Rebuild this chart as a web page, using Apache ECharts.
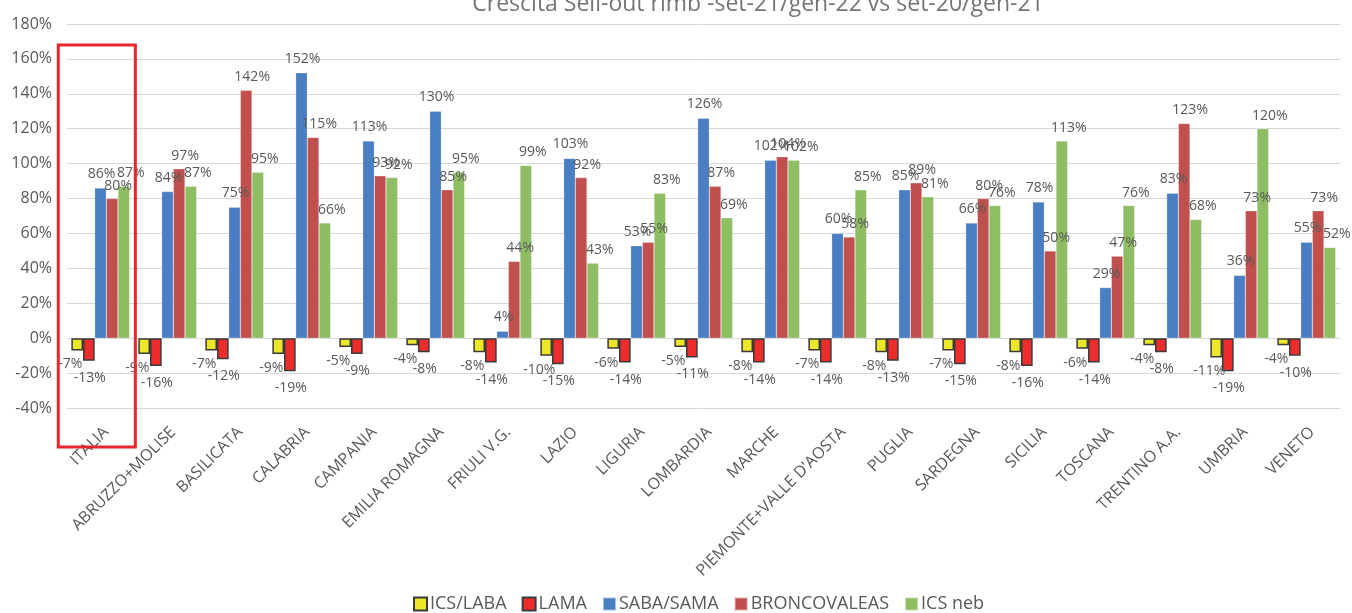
<!DOCTYPE html>
<html>
<head>
<meta charset="utf-8">
<title>Crescita Sell-out rimb</title>
<script src="https://cdn.jsdelivr.net/npm/echarts@6/dist/echarts.min.js"></script>
<style>
  html, body { margin: 0; padding: 0; background: #ffffff; }
  #chart { width: 1352px; height: 613px; }
</style>
</head>
<body>
<div id="chart"></div>
<script>
// Regions (ITALIA first, as the national total)
const categories = [
  'ITALIA', 'ABRUZZO+MOLISE', 'BASILICATA', 'CALABRIA', 'CAMPANIA',
  'EMILIA ROMAGNA', 'FRIULI V.G.', 'LAZIO', 'LIGURIA', 'LOMBARDIA',
  'MARCHE', "PIEMONTE+VALLE D'AOSTA", 'PUGLIA', 'SARDEGNA', 'SICILIA',
  'TOSCANA', 'TRENTINO A.A.', 'UMBRIA', 'VENETO'
];

// Sell-out growth (%) per therapeutic class
const icsLaba    = [-7, -9, -7, -9, -5, -4, -8, -10, -6, -5, -8, -7, -8, -7, -8, -6, -4, -11, -4];
const lama       = [-13, -16, -12, -19, -9, -8, -14, -15, -14, -11, -14, -14, -13, -15, -16, -14, -8, -19, -10];
const sabaSama   = [86, 84, 75, 152, 113, 130, 4, 103, 53, 126, 102, 60, 85, 66, 78, 29, 83, 36, 55];
const broncovaleas = [80, 97, 142, 115, 93, 85, 44, 92, 55, 87, 104, 58, 89, 80, 50, 47, 123, 73, 73];
const icsNeb     = [87, 87, 95, 66, 92, 95, 99, 43, 83, 69, 102, 85, 81, 76, 113, 76, 68, 120, 52];

const seriesNames = ['ICS/LABA', 'LAMA', 'SABA/SAMA', 'BRONCOVALEAS', 'ICS neb'];
const yTicks = { min: -40, max: 180, step: 20 };
const highlightCategory = 'ITALIA';

const FONT = '"Open Sans", Lato, sans-serif';
const TEXT = '#595959';

function barSeries(name, data, color, opts) {
  return {
    name: name,
    type: 'bar',
    data: data,
    barGap: '0%',
    barCategoryGap: '13%',
    itemStyle: Object.assign({ color: color }, opts.itemStyle || {}),
    label: {
      show: true,
      position: opts.position,
      distance: opts.distance,
      offset: opts.offset,
      formatter: '{c}%',
      color: TEXT,
      fontFamily: FONT,
      fontSize: 14
    },
    emphasis: { disabled: true }
  };
}

const chart = echarts.init(document.getElementById('chart'), null, { renderer: 'canvas' });

const option = {
  animation: false,
  backgroundColor: '#ffffff',
  textStyle: { fontFamily: FONT },
  title: {
    text: 'Crescita Sell-out rimb -set-21/gen-22 vs set-20/gen-21',
    left: 753,
    top: -12,
    textAlign: 'center',
    textStyle: { color: '#757575', fontFamily: FONT, fontSize: 23, fontWeight: 'normal' }
  },
  legend: {
    bottom: -5,
    left: 408,
    itemWidth: 13,
    itemHeight: 13,
    itemGap: 15,
    icon: 'rect',
    textStyle: { color: TEXT, fontFamily: FONT, fontSize: 18, padding: [0, 0, 0, -2] },
    data: seriesNames
  },
  grid: { left: 67, right: 12, top: 24, bottom: 205, containLabel: false },
  xAxis: {
    type: 'category',
    data: categories,
    axisLine: { show: false },
    axisTick: { show: false },
    axisLabel: {
      rotate: 45,
      interval: 0,
      margin: 16,
      verticalAlign: 'top',
      color: TEXT,
      fontFamily: FONT,
      fontSize: 16
    }
  },
  yAxis: {
    type: 'value',
    min: yTicks.min,
    max: yTicks.max,
    interval: yTicks.step,
    axisLine: { show: false },
    axisTick: { show: false },
    splitLine: { lineStyle: { color: '#D9D9D9', width: 1 } },
    axisLabel: {
      formatter: '{value}%',
      margin: 15,
      color: TEXT,
      fontFamily: FONT,
      fontSize: 16
    }
  },
  series: [
    barSeries(seriesNames[0], icsLaba, '#EDE72A', {
      position: 'bottom', distance: 7, offset: [-7, 0],
      itemStyle: { borderColor: '#3b3b3b', borderWidth: 1.5 }
    }),
    barSeries(seriesNames[1], lama, '#EE2C2C', {
      position: 'bottom', distance: 10, offset: [1, 0],
      itemStyle: { borderColor: '#3b3b3b', borderWidth: 1.5 }
    }),
    barSeries(seriesNames[2], sabaSama, '#4A7EC2', {
      position: 'top', distance: 7, offset: [1, 0],
      itemStyle: { borderColor: 'rgba(255,255,255,0.5)', borderWidth: 0.5 }
    }),
    barSeries(seriesNames[3], broncovaleas, '#C0504D', {
      position: 'top', distance: 6, offset: [6, 0],
      itemStyle: { borderColor: 'rgba(255,255,255,0.5)', borderWidth: 0.5 }
    }),
    barSeries(seriesNames[4], icsNeb, '#8FBD63', {
      position: 'top', distance: 6, offset: [7, 0],
      itemStyle: { borderColor: 'rgba(255,255,255,0.5)', borderWidth: 0.5 }
    })
  ]
};

chart.setOption(option);

// Red frame around the national total column, placed from the axis scales
(function drawFrame() {
  const idx = categories.indexOf(highlightCategory);
  const cx = chart.convertToPixel({ xAxisIndex: 0 }, idx);
  const cx2 = chart.convertToPixel({ xAxisIndex: 0 }, idx + 1);
  const band = cx2 - cx;
  const yTop = chart.convertToPixel({ yAxisIndex: 0 }, 168);
  const yBottom = chart.convertToPixel({ yAxisIndex: 0 }, yTicks.min);
  const x0 = cx - band * 0.63;
  const x1 = cx + band * 0.52;
  chart.setOption({
    graphic: [{
      type: 'rect',
      shape: { x: x0, y: yTop, width: x1 - x0, height: (yBottom + 39) - yTop },
      style: { fill: 'none', stroke: '#E8262B', lineWidth: 3 },
      silent: true,
      z: 100
    }]
  });
})();
</script>
</body>
</html>
